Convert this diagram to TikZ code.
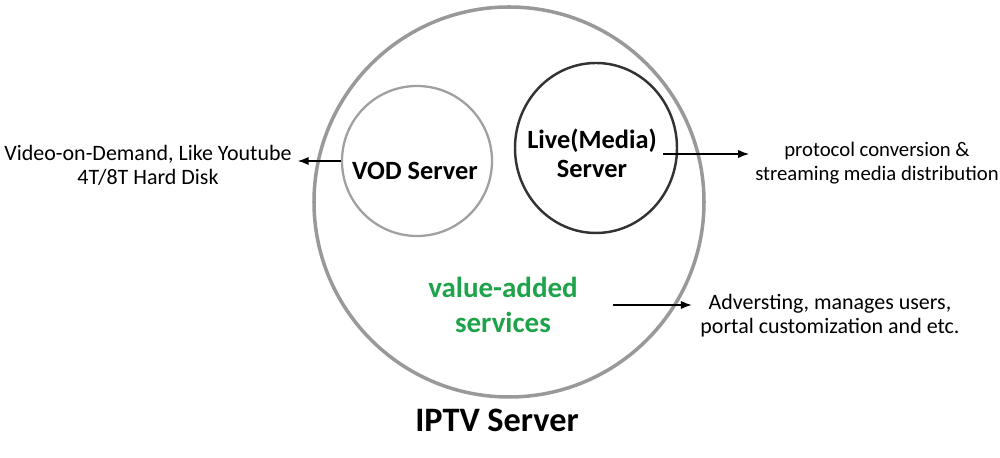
\documentclass[tikz,border=0pt]{standalone}
\usepackage{fontspec}
\setmainfont{Carlito}
\usetikzlibrary{arrows.meta,calc,positioning,shapes.geometric}
\definecolor{ring}{HTML}{999999}
\definecolor{vodring}{HTML}{A0A0A0}
\definecolor{liveedge}{HTML}{333333}
\definecolor{addgreen}{HTML}{1FA34A}
\tikzset{>=Latex,
  outer/.style={circle,draw=ring,line width=2pt,minimum size=7.8cm,inner sep=0pt},
  vodcircle/.style={circle,draw=vodring,line width=1.3pt,minimum size=3cm,inner sep=0pt},
  livecircle/.style={ellipse,draw=liveedge,line width=1.4pt,minimum width=3.24cm,minimum height=3.4cm,inner sep=0pt},
  title/.style={font=\fontsize{15}{16.5}\selectfont\bfseries,align=center},
  bigtitle/.style={font=\fontsize{19.5}{22}\selectfont\bfseries},
  note/.style={font=\fontsize{12.5}{13.7}\selectfont,align=center},
  pointer/.style={->,line width=.7pt}}
\begin{document}
\begin{tikzpicture}[x=1cm,y=1cm]
\useasboundingbox (0,0) rectangle (20,9.16);
% the three servers
\node[outer] (iptv) at (10.18,5.12) {};
\node[vodcircle] (vod) at (8.34,5.94) {};
\node[livecircle] (live) at (11.92,6.2) {};
\node[title] (vodname) at (8.3,5.74) {VOD Server};
\node[title] (livename) at (11.84,6.1) {Live(Media)\\Server};
\node[title,text=addgreen,font=\fontsize{16.5}{20}\selectfont\bfseries] (extra) at (10.06,3.06) {value-added\\services};
\node[bigtitle] (iptvname) at (9.94,0.76) {IPTV Server};
% side notes
\node[note] (vodnote) at (2.96,5.86) {Video-on-Demand, Like Youtube\\4T/8T Hard Disk};
\node[note,font=\fontsize{11.8}{13.7}\selectfont] (livenote) at (17.54,5.9) {protocol conversion \&\\streaming media distribution};
\node[note] (extranote) at (16.6,2.84) {Adversting, manages users,\\portal customization and etc.};
\coordinate (vodfrom) at (vod.west);
\coordinate (livefrom) at ([shift={(-0.3,-0.12)}]live.east);
\coordinate (extrafrom) at ([xshift=0.58cm]extra.east |- 0,3.06);
\draw[pointer] (vodfrom) -- (vodnote.east |- vodfrom);
\draw[pointer] (livefrom) -- (livenote.west |- livefrom);
\draw[pointer] (extrafrom) -- ([xshift=-0.05cm]extranote.west |- extrafrom);
\end{tikzpicture}
\end{document}
